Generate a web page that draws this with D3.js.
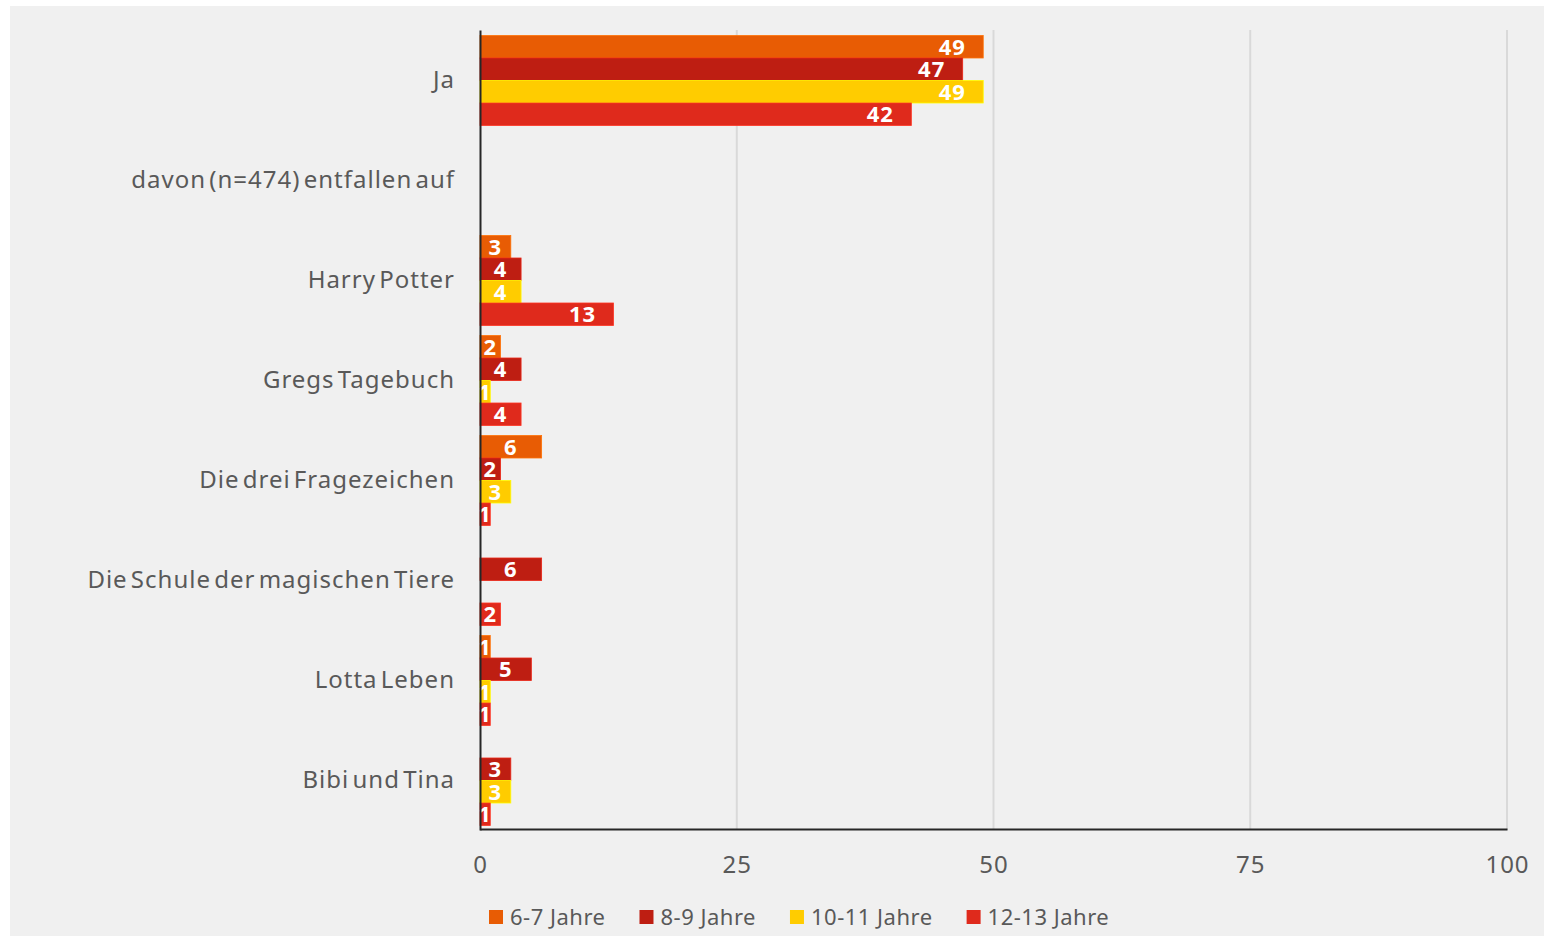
<!DOCTYPE html>
<html>
<head>
<meta charset="utf-8">
<script src="https://cdn.jsdelivr.net/npm/d3@7"></script>
<style>
  html, body { margin: 0; padding: 0; background: #ffffff; }
  svg { display: block; }
  text { font-family: "Noto Sans", "Open Sans", sans-serif; }
</style>
</head>
<body>
<svg id="chart" width="1544" height="936"></svg>
<script>
const categories = ["Ja", "davon (n=474) entfallen auf", "Harry Potter", "Gregs Tagebuch",
  "Die drei Fragezeichen", "Die Schule der magischen Tiere", "Lotta Leben", "Bibi und Tina"];
const seriesNames = ["6-7 Jahre", "8-9 Jahre", "10-11 Jahre", "12-13 Jahre"];
const seriesColors = ["#e85c04", "#be1e12", "#ffcc00", "#df2a1c"];
const values_6_7   = [49, null, 3, 2, 6, null, 1, null];
const values_8_9   = [47, null, 4, 4, 2, 6, 5, 3];
const values_10_11 = [49, null, 4, 1, 3, null, 1, 3];
const values_12_13 = [42, null, 13, 4, 1, 2, 1, 1];
const xTicks = [0, 25, 50, 75, 100];

const seriesValues = [values_6_7, values_8_9, values_10_11, values_12_13];

const svg = d3.select("#chart");
svg.append("rect").attr("x", 10).attr("y", 6).attr("width", 1534).attr("height", 930).attr("fill", "#f0f0f0");

const plotLeft = 480, plotRight = 1507, plotTop = 30, plotBottom = 830;
const x = d3.scaleLinear().domain([0, 100]).range([plotLeft, plotRight]);
const y = d3.scaleBand().domain(categories).range([plotTop, plotBottom]).paddingInner(0).paddingOuter(0);
const ySub = d3.scaleBand().domain(seriesNames).range([5.5, y.bandwidth() - 4.5]).padding(0);

// gridlines
svg.append("g").selectAll("line").data(xTicks.filter(d => d > 0)).join("line")
  .attr("x1", d => x(d)).attr("x2", d => x(d))
  .attr("y1", plotTop).attr("y2", plotBottom)
  .attr("stroke", "#d9d9d9").attr("stroke-width", 2);

// bars
const barData = [];
categories.forEach((c, ci) => {
  seriesNames.forEach((s, si) => {
    const v = seriesValues[si][ci];
    if (v !== null && v !== undefined) barData.push({ c, s, si, v });
  });
});

const bars = svg.append("g");
bars.selectAll("rect").data(barData).join("rect")
  .attr("x", x(0))
  .attr("y", d => y(d.c) + ySub(d.s))
  .attr("width", d => x(d.v) - x(0))
  .attr("height", ySub.bandwidth())
  .attr("fill", d => seriesColors[d.si])
  .attr("stroke", d => d3.color(seriesColors[d.si]).brighter(0.6))
  .attr("stroke-width", 0.8);

bars.selectAll("text").data(barData).join("text")
  .attr("x", d => Math.max((x(0) + x(d.v)) / 2, x(d.v) - 31))
  .attr("y", d => y(d.c) + ySub(d.s) + ySub.bandwidth() / 2)
  .attr("dy", "0.36em")
  .attr("text-anchor", "middle")
  .attr("fill", "#ffffff")
  .attr("font-weight", "bold")
  .attr("font-size", 22)
  .style("letter-spacing", "1px")
  .text(d => d.v);

// axes
const xAxis = d3.axisBottom(x).tickValues(xTicks).tickSize(0).tickPadding(27);
const gx = svg.append("g").attr("transform", `translate(0,${plotBottom - 1})`).call(xAxis);
gx.select(".domain").attr("stroke", "#262626").attr("stroke-width", 2);
gx.selectAll("text").attr("font-size", 24).attr("fill", "#595959")
  .style("font-family", "'Noto Sans', sans-serif").style("letter-spacing", "1px");

const yAxis = d3.axisLeft(y).tickSize(0).tickPadding(25);
const gy = svg.append("g").attr("transform", `translate(${plotLeft},0)`).call(yAxis);
gy.select(".domain").attr("stroke", "#262626").attr("stroke-width", 2);
gy.selectAll("text").attr("font-size", 24).attr("fill", "#595959")
  .style("font-family", "'Noto Sans', sans-serif")
  .style("letter-spacing", "1px").style("word-spacing", "-4px");

// legend
const legend = svg.append("g");
let lx = 489;
seriesNames.forEach((s, i) => {
  const g = legend.append("g");
  g.append("rect").attr("x", lx).attr("y", 910).attr("width", 14).attr("height", 14).attr("fill", seriesColors[i]);
  const t = g.append("text").attr("x", lx + 21).attr("y", 917).attr("dy", "0.36em")
    .attr("font-size", 22).attr("fill", "#595959").style("letter-spacing", "0.5px").text(s);
  lx += 21 + t.node().getComputedTextLength() + 34;
});
</script>
</body>
</html>
